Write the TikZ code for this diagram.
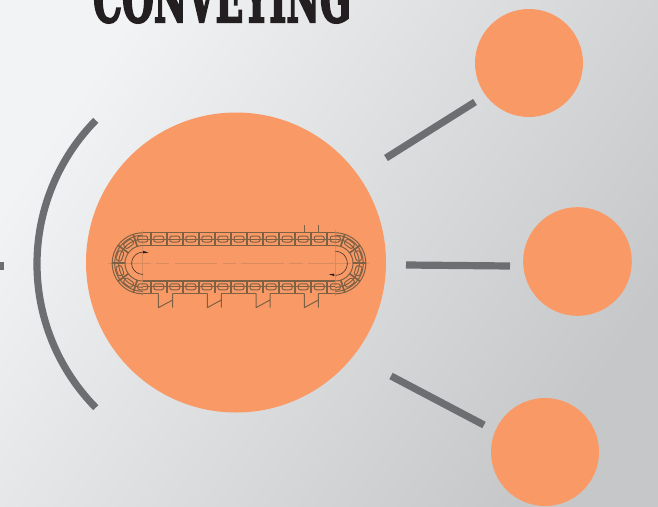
\documentclass[tikz,border=0pt]{standalone}
\usepackage{fontspec}
\newfontfamily\titlefont{DejaVu Serif}[BoldFont={DejaVu Serif Bold},BoldFeatures={FakeBold=3.5}]
\usetikzlibrary{arrows.meta}
\definecolor{disc}{HTML}{F99A66}
\definecolor{bar}{HTML}{6D6E71}
\definecolor{chain}{HTML}{7E6044}
\definecolor{dark}{HTML}{231F20}
\definecolor{bglight}{HTML}{F2F3F5}
\definecolor{bgdark}{HTML}{C6C7C9}
\tikzset{
 discnode/.style={circle,fill=disc,inner sep=0pt,outer sep=0pt},
 barline/.style={draw=bar,line width=5.4pt},
 chainline/.style={draw=chain,line width=.75pt,line join=round},
 thick chain/.style={draw=chain,line width=1.3pt},
 centreline/.style={draw=chain!25!disc,line width=.35pt},
 turn/.style={draw=dark!85!disc,line width=.45pt},
}
\begin{document}
\begin{tikzpicture}[x=.75pt,y=-.75pt]
\useasboundingbox (0,0) rectangle (658,507);
\clip (0,0) rectangle (658,507);
\shade[left color=bglight,right color=bgdark,shading angle=56] (0,0) rectangle (658,507);
\node[anchor=base,inner sep=0pt,text=dark] (title) at (222,22) {\resizebox{193.5pt}{36pt}{\titlefont\bfseries CONVEYING}};

\node[discnode,minimum size=225pt] (main) at (236,262.5) {};
\node[discnode,minimum size=81pt] (d1) at (529,63) {};
\node[discnode,minimum size=81.5pt] (d2) at (577.5,261.5) {};
\node[discnode,minimum size=81pt] (d3) at (545,452) {};

\coordinate (a1) at (386,158); \coordinate (b1) at (475,102);
\coordinate (a2) at (406,265); \coordinate (b2) at (510,266);
\coordinate (a3) at (391,376); \coordinate (b3) at (484,425);
\coordinate (s1) at (0,266); \coordinate (s2) at (4,266);
\draw[barline] (a1) -- (b1);
\draw[barline] (a2) -- (b2);
\draw[barline] (a3) -- (b3);
\draw[barline] (s1) -- (s2);
\draw[barline] plot[domain=135.5:224.5,samples=60,smooth] ({242+205*cos(\x)},{264-205*sin(\x)});

% centre lines
\draw[centreline,dash pattern=on 32pt off 4pt on 10pt off 4pt] (108,263.3) -- (370,263.3);
\draw[centreline] (142.7,230) -- (142.7,296);
\draw[centreline] (335,230) -- (335,296);

% straight runs of the chain
\draw[thick chain] (142.7,232.6) -- (335.3,232.6);
\draw[thick chain] (142.7,245.6) -- (335.3,245.6);
\draw[thick chain] (142.7,281) -- (335.3,281);
\draw[chainline] (142.7,293.4) -- (158.3,293.4) (172.7,293.4) -- (207.3,293.4) (221.3,293.4) -- (256,293.4) (270,293.4) -- (304.3,293.4) (318.3,293.4) -- (335.3,293.4);
\draw[chainline] (142.7,239) -- (335.3,239) (142.7,286.8) -- (335.3,286.8);
\foreach \k in {0,...,11}{
  \pgfmathsetmacro\bx{150.7+16.05*\k}
  \draw[thick chain] (\bx,232.6) -- (\bx,245.6);
  \draw[thick chain] (\bx,281) -- (\bx,293.4);
}
\foreach \k in {0,...,12}{
  \pgfmathsetmacro\lx{142.7+16.05*\k}
  \draw[chainline,rounded corners=1.6pt] (\lx-5,236) rectangle (\lx+5,242);
  \draw[chainline,rounded corners=1.6pt] (\lx-5,283.8) rectangle (\lx+5,289.8);
}

% flights
\foreach \xa/\xb in {158.3/172.7,207.3/221.3,256/270,304.3/318.3}{
  \draw[chainline] (\xa,293.4) -- (\xa,307.7) -- (\xb,300) (\xb,293.4) -- (\xb,307.7);
}
\draw[chainline] (304.3,232.6) -- (304.3,225);
\draw[chainline] (318.3,232.6) -- (318.3,225);

% left and right turns
\foreach \cx/\ca/\cb in {142.7/90/270,335.3/-90/90}{
  \draw[chainline] plot[domain=\ca:\cb,samples=40,smooth] ({\cx+30.5*cos(\x)},{263.3-30.5*sin(\x)});
  \draw[chainline] plot[domain=\ca:\cb,samples=40,smooth] ({\cx+28*cos(\x)},{263.3-28*sin(\x)});
  \draw[chainline] plot[domain=\ca:\cb,samples=40,smooth] ({\cx+17.7*cos(\x)},{263.3-17.7*sin(\x)});
  \draw[chainline] plot[domain=\ca:\cb,samples=40,smooth] ({\cx+24*cos(\x)},{263.3-24*sin(\x)});
}
\foreach \cx/\th in {142.7/180,142.7/144,142.7/108,142.7/216,142.7/252,335.3/0,335.3/36,335.3/72,335.3/-36,335.3/-72}{
  \draw[thick chain] ({\cx+17.7*cos(\th)},{263.3-17.7*sin(\th)}) -- ({\cx+30.5*cos(\th)},{263.3-30.5*sin(\th)});
}
\foreach \cx/\th in {142.7/162,142.7/126,142.7/198,142.7/234,335.3/18,335.3/54,335.3/-18,335.3/-54}{
  \begin{scope}[shift={({\cx+24*cos(\th)},{263.3-24*sin(\th)})},rotate=\th+90]
    \draw[chainline,rounded corners=1.6pt] (-5,-3) rectangle (5,3);
  \end{scope}
}

% direction of travel
\draw[turn] plot[domain=90:272,samples=30,smooth] ({142.7+11*cos(\x)},{263.3-11*sin(\x)});
\fill[dark] (143,250.8) -- (148.5,252.6) -- (143,253.4) -- cycle;
\draw[turn] plot[domain=-88:90,samples=30,smooth] ({335.3+12*cos(\x)},{263.3-12*sin(\x)});
\fill[dark] (334,273.6) -- (329,274.4) -- (334.5,276.2) -- cycle;
\end{tikzpicture}
\end{document}
